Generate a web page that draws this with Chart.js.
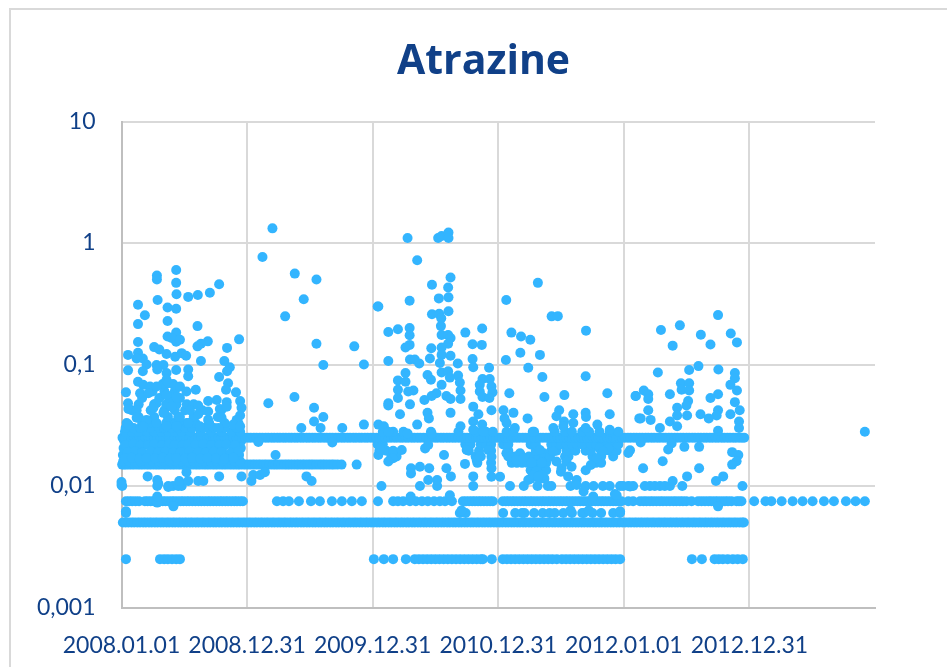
<!DOCTYPE html>
<html>
<head>
<meta charset="utf-8">
<title>Atrazine</title>
<script src="https://cdn.jsdelivr.net/npm/chart.js@4"></script>
<style>
html,body{margin:0;padding:0;background:#fff;overflow:hidden}
#frame{position:absolute;left:0;top:0;width:947px;height:667px}
canvas{display:block}
</style>
</head>
<body>
<div id="frame"><canvas id="c" width="947" height="667"></canvas></div>
<script>
const chartTitle = 'Atrazine';
const xTickDays = [0, 365.25, 730.5, 1095.75, 1461, 1826.25, 2191.5];
const xTickLabels = ['2008.01.01','2008.12.31','2009.12.31','2010.12.31','2012.01.01','2012.12.31',''];
const yTickValues = [0.001, 0.01, 0.1, 1, 10];
const yTickLabels = ['0,001','0,01','0,1','1','10'];

// Values sitting on reporting-limit levels: days since 2008.01.01 per level
const days0025 = [13,112,124,135,147,159,170,734,763,790,827,853,865,877,889,901,913,925,937,949,961,973,985,997,1009,1021,1033,1045,1051,1077,1109,1121,1133,1145,1157,1169,1181,1193,1205,1217,1229,1241,1253,1266,1281,1293,1305,1317,1329,1341,1353,1365,1377,1389,1401,1413,1425,1437,1450,1659,1688,1725,1737,1749,1763,1778,1792,1807];
const days005 = [4,12,20,29,37,46,54,63,71,80,88,97,105,114,122,131,139,148,156,165,173,182,190,199,207,216,224,233,241,250,258,267,275,284,292,301,309,318,326,335,343,352,360,369,377,386,394,403,411,420,428,437,445,454,462,471,479,488,496,505,513,522,530,539,547,556,564,573,581,590,598,607,615,624,632,641,649,658,666,675,683,692,700,709,717,726,734,743,751,760,768,777,785,794,802,811,819,828,836,845,853,862,870,879,887,896,904,913,921,930,938,947,955,964,972,981,989,998,1006,1015,1023,1032,1040,1049,1057,1066,1074,1083,1091,1100,1108,1117,1125,1134,1142,1151,1159,1168,1176,1185,1193,1202,1210,1219,1227,1236,1244,1253,1261,1270,1278,1287,1295,1304,1312,1321,1329,1338,1346,1355,1363,1372,1380,1389,1397,1406,1414,1423,1431,1440,1448,1457,1465,1474,1482,1491,1499,1508,1516,1525,1533,1542,1550,1559,1567,1576,1584,1593,1601,1610,1618,1627,1635,1644,1652,1661,1669,1678,1686,1695,1703,1712,1720,1729,1737,1746,1754,1763,1771,1780,1788,1797,1805,1810];
const days0075 = [13,22,31,41,51,68,76,85,94,102,111,120,128,137,146,154,163,172,180,189,197,206,215,224,232,241,250,258,267,276,285,293,302,310,319,328,336,345,353,452,470,487,516,551,577,612,641,670,699,746,790,804,819,839,856,874,891,909,926,941,961,993,1002,1011,1020,1028,1037,1045,1054,1063,1072,1080,1109,1118,1126,1135,1143,1152,1161,1170,1178,1187,1195,1204,1213,1222,1230,1239,1247,1256,1265,1274,1282,1291,1299,1308,1317,1326,1334,1343,1351,1360,1369,1378,1386,1395,1403,1412,1421,1430,1438,1446,1454,1474,1488,1508,1518,1527,1537,1546,1556,1566,1575,1585,1595,1605,1614,1624,1633,1643,1658,1677,1687,1697,1707,1716,1726,1735,1745,1755,1764,1774,1789,1796,1803,1840,1873,1890,1920,1952,1981,2010,2043,2072,2107,2135,2162];
const days010 = [2,104,136,150,165,175,756,868,918,1023,1130,1170,1210,1240,1250,1306,1350,1373,1400,1420,1450,1459,1474,1488,1522,1537,1551,1566,1580,1595,1631,1806];
const days015 = [2,8,14,22,30,38,47,55,63,72,80,88,97,105,113,122,130,139,147,155,164,172,180,189,197,205,214,222,230,239,247,255,264,272,280,289,297,305,314,322,330,338,345,354,362,371,380,388,397,405,414,422,431,440,448,456,465,474,482,490,499,508,516,525,533,542,550,558,567,576,584,592,601,610,618,628,640,684];
const days025 = [3,11,19,28,36,45,53,62,70,79,87,96,104,113,121,130,138,147,155,164,172,181,189,198,206,215,223,232,240,249,257,266,274,283,291,300,308,317,325,334,342,351,359,368,376,385,393,402,410,419,427,436,444,453,461,470,478,487,495,504,512,521,529,538,546,555,563,572,580,589,597,606,614,623,631,640,648,657,665,674,682,691,699,708,716,725,733,742,750,759,767,776,784,793,801,810,818,827,835,844,852,861,869,878,886,895,903,912,920,929,937,946,954,963,971,980,988,997,1005,1014,1022,1031,1039,1048,1056,1065,1073,1082,1090,1099,1107,1116,1124,1133,1141,1150,1158,1167,1175,1184,1192,1201,1209,1218,1226,1235,1243,1252,1260,1269,1277,1286,1294,1303,1311,1320,1328,1337,1345,1354,1362,1371,1379,1388,1396,1405,1413,1422,1430,1439,1447,1456,1464,1473,1481,1490,1498,1507,1515,1524,1532,1541,1549,1558,1566,1575,1583,1592,1600,1609,1617,1626,1634,1643,1651,1660,1668,1677,1685,1694,1702,1711,1719,1728,1736,1745,1753,1762,1770,1779,1787,1796,1804,1811];
const days006 = [13,984,1001,1110,1145,1165,1172,1200,1225,1245,1260,1285,1310,1340,1345,1370,1395,1430,1450];

// Dense clusters around the limits, estimated by band of values
const days0115 = [1190,1215,1230];
const days0135 = [1190,1205,1220,1235,1350];
const days0155 = [1035,1075,1135,1150,1165,1180,1195,1205,1220,1235,1380,1395];
const days016 = [5,22,39,56,90,107,124,141,158,175,192,209,226,243,260,277,294,328,345];
const days0175 = [785,800,1030,1045,1125,1145,1165,1185,1200,1215,1230,1290,1300,1370,1395,1430];
const days018 = [4,21,38,55,89,106,123,140,157,174,191,240,257,274,291,308,325,342];
const days0195 = [750,770,790,1010,1040,1075,1125,1205,1250,1265,1295,1320,1350,1365,1395,1420,1440];
const days0205 = [6,23,40,57,90,108,125,142,159,176,225,242,259,276,293,330,347];
const days022 = [745,760,1000,1015,1045,1060,1075,1110,1125,1190,1205,1250,1265,1280,1295,1310,1325,1340,1365,1380,1400,1415,1430,1445];
const days0235 = [8,25,42,59,76,93,110,127,144,161,178,212,229,246,263,280,297,314,331,348];
const days028 = [10,30,50,75,95,115,135,155,175,200,230,260,290,320,345,760,790,820,900,980,1030,1060,1080,1120,1140,1200,1260,1290,1310,1340,1360,1390,1420,1445];
const days030 = [12,35,55,85,110,125,145,165,185,205,240,270,300,335];
const days033 = [15,60,90,130,150,170,190,215,255,300,340];
const days037 = [50,95,135,165,210,280];
const days042 = [30,85,125,155,185,235,290];
const days047 = [50,95,130,160,190,210];
const days053 = [60,110,140,170];
const days060 = [90,125,155];
const days069 = [120,150];

// Scattered detections: day and value pairs
const scatterDays = [439,410,504,567,530,476,567,677,705,587,745,427,503,560,587,560,523,579,642,705,747,
159,103,103,159,284,257,222,194,160,105,48,134,159,68,134,48,221,159,134,159,146,170,48,342,251,231,221,307,95,110,19,48,62,44,131,156,175,188,299,231,315,73,102,122,19,62,104,159,194,194,307,284,131,131,310,48,63,83,102,136,156,170,189,216,304,13,54,78,131,160,333,277,252,306,345,19,102,223,349,286,306,20,44,93,146,199,252,345,223,44,73,122,170,291,252,335,20,63,102,194,228,131,282,325,160,345,
12,35,55,78,95,118,138,155,178,195,215,238,262,285,305,330,18,40,60,85,108,128,150,172,198,222,245,268,290,318,340,10,30,52,72,98,120,140,160,185,205,230,250,275,300,325,
0,0,76,104,107,136,165,168,194,223,238,284,349,189,378,383,403,417,538,553,448,613,398,13,104,151,104,
832,921,931,951,951,860,957,903,950,923,951,838,747,1119,1211,951,903,924,1251,1269,930,929,838,804,776,1049,1000,1351,1134,1162,1189,838,931,950,957,950,1021,1048,838,826,901,931,1160,1217,931,957,897,839,853,776,1118,1021,866,926,978,1023,1069,1183,826,931,950,979,890,900,955,1224,1350,804,826,984,1050,1071,1042,1076,931,804,849,834,986,1042,1079,1128,916,1413,1288,1495,1230,804,902,945,957,986,1050,1070,881,839,776,776,1023,1076,1111,1140,1273,957,890,1038,810,1314,1350,1420,1265,1351,894,1114,1181,1506,1023,1287,1120,1314,1049,1384,860,763,986,1256,1144,1285,1350,1420,1196,776,1023,1052,902,832,
747,752,790,776,815,883,892,938,842,842,868,895,892,918,945,958,1023,999,1004,1033,1042,1067,1076,1076,1076,1101,1120,1139,1159,1120,1130,1149,1168,1193,1207,1222,1183,1197,1212,1228,1222,1246,1217,1256,1265,1280,1299,1324,1324,1344,1294,1365,1309,1278,1382,1391,1416,1401,1435,1440,1372,1479,1359,1306,841,955,989,
1735,1624,1569,1685,1772,1790,1603,1713,1678,1651,1736,1560,1784,1784,1771,1627,1651,1629,1651,1790,1519,1532,1496,1532,1595,1735,1713,1648,1643,1784,1616,1532,1735,1798,1684,1771,1616,1645,1731,1708,1510,1539,1595,1796,1616,1796,1566,1735,2162,
1510,1600,1590,1637,1680,1479,1474,1776,1794,1789,1776,1574,1517,1680,1645,1750,1729,1603,1735,1450];
const scatterValues = [1.32,0.767,0.56,0.5,0.344,0.249,0.148,0.141,0.1,0.099,0.3,0.048,0.054,0.044,0.037,0.034,0.03,0.03,0.03,0.032,0.032,
0.6,0.54,0.5,0.47,0.457,0.39,0.373,0.36,0.378,0.34,0.31,0.295,0.288,0.254,0.228,0.215,0.207,0.183,0.17,0.154,0.165,0.16,0.153,0.161,0.155,0.148,0.141,0.137,0.139,0.133,0.12,0.125,0.112,0.112,0.122,0.116,0.124,0.118,0.107,0.107,0.095,0.1,0.099,0.099,0.0895,0.088,0.091,0.09,0.091,0.08,0.088,0.079,0.085,0.075,0.07,0.072,0.068,0.066,0.066,0.07,0.066,0.066,0.06,0.062,0.062,0.059,0.058,0.058,0.056,0.054,0.059,0.051,0.05,0.049,0.05,0.048,0.048,0.046,0.044,0.043,0.045,0.043,0.042,0.044,0.045,0.042,0.041,0.038,0.039,0.0365,0.035,0.04,0.037,0.0365,0.035,0.035,0.032,0.031,0.033,0.033,0.031,0.031,0.03,0.032,0.031,0.031,
0.0218,0.0222,0.0215,0.0218,0.022,0.0216,0.022,0.0218,0.0215,0.022,0.0218,0.0222,0.0216,0.0218,0.022,0.0216,0.019,0.0192,0.0188,0.0192,0.019,0.0192,0.0188,0.019,0.0192,0.019,0.0188,0.0192,0.019,0.0188,0.0192,0.0169,0.0171,0.0168,0.017,0.0169,0.0171,0.0168,0.017,0.0169,0.0171,0.0168,0.017,0.0169,0.0168,0.0171,
0.0108,0.0102,0.012,0.0112,0.0105,0.0098,0.0102,0.011,0.011,0.011,0.011,0.012,0.012,0.013,0.011,0.0123,0.0123,0.013,0.012,0.011,0.018,0.0228,0.023,0.0062,0.0073,0.0068,0.0082,
1.1,1.1,1.14,1.22,1.1,0.72,0.52,0.454,0.43,0.35,0.357,0.335,0.3,0.34,0.47,0.274,0.259,0.262,0.249,0.25,0.24,0.207,0.2,0.195,0.185,0.198,0.183,0.19,0.183,0.17,0.16,0.174,0.175,0.175,0.165,0.148,0.147,0.145,0.145,0.138,0.136,0.138,0.125,0.12,0.12,0.118,0.112,0.11,0.11,0.107,0.109,0.111,0.102,0.103,0.102,0.095,0.094,0.094,0.085,0.086,0.088,0.081,0.082,0.075,0.078,0.079,0.08,0.074,0.072,0.071,0.076,0.076,0.068,0.066,0.068,0.062,0.061,0.06,0.061,0.06,0.059,0.058,0.058,0.058,0.056,0.055,0.054,0.053,0.055,0.055,0.052,0.052,0.054,0.053,0.051,0.047,0.048,0.046,0.045,0.042,0.042,0.04,0.042,0.04,0.04,0.039,0.039,0.039,0.04,0.039,0.0375,0.037,0.036,0.036,0.036,0.036,0.034,0.034,0.033,0.033,0.032,0.032,0.032,0.031,0.031,0.03,0.03,0.031,0.03,0.029,0.028,0.028,0.029,0.028,0.027,0.027,
0.018,0.0204,0.0169,0.0159,0.0198,0.0204,0.0218,0.018,0.014,0.0127,0.0144,0.014,0.0112,0.0112,0.014,0.012,0.012,0.0152,0.0198,0.0164,0.0174,0.0198,0.0174,0.014,0.0119,0.0119,0.0186,0.0169,0.0186,0.0186,0.0174,0.0164,0.0169,0.0155,0.0132,0.0123,0.0112,0.0123,0.012,0.0186,0.0155,0.0174,0.0198,0.0192,0.0159,0.014,0.012,0.0112,0.0102,0.009,0.0159,0.0149,0.0144,0.0131,0.0169,0.0204,0.0204,0.0192,0.0086,0.0084,0.0082,0.0099,0.0063,0.0063,0.0082,0.0084,0.0063,
0.255,0.21,0.192,0.176,0.18,0.152,0.143,0.146,0.097,0.09,0.091,0.086,0.085,0.077,0.068,0.07,0.07,0.062,0.061,0.061,0.061,0.057,0.055,0.052,0.057,0.057,0.053,0.05,0.046,0.049,0.044,0.042,0.042,0.042,0.039,0.039,0.038,0.038,0.038,0.036,0.036,0.035,0.034,0.034,0.031,0.03,0.03,0.0285,0.028,
0.0228,0.0224,0.02,0.021,0.021,0.0197,0.0187,0.019,0.018,0.016,0.015,0.016,0.014,0.014,0.012,0.012,0.011,0.011,0.0068,0.0062];

const levels = [[days0025,0.0025],[days005,0.005],[days006,0.006],[days0075,0.0075],[days010,0.01],[days0115,0.0115],[days0135,0.0135],[days015,0.015],[days0155,0.0155],[days016,0.016],[days0175,0.0175],[days018,0.018],[days0195,0.0195],[days0205,0.0205],[days022,0.022],[days0235,0.0235],[days025,0.025],[days028,0.028],[days030,0.03],[days033,0.033],[days037,0.037],[days042,0.042],[days047,0.047],[days053,0.053],[days060,0.06],[days069,0.069]];
const points = [];
levels.forEach(([d,v]) => d.forEach(x => points.push({x, y:v})));
scatterDays.forEach((x,i) => points.push({x, y:scatterValues[i]}));

const textColor = '#104088';
const frame = {
  id:'frame',
  beforeDraw(chart){
    const c = chart.ctx;
    c.save();
    c.strokeStyle = '#d9d9d9';
    c.lineWidth = 2;
    c.beginPath();
    c.moveTo(10, 667);
    c.lineTo(10, 9);
    c.lineTo(947, 9);
    c.stroke();
    c.restore();
  }
};

new Chart(document.getElementById('c'), {
  type:'scatter',
  data:{datasets:[{data:points, backgroundColor:'#33b5ff', borderWidth:0, pointRadius:5, pointHoverRadius:5, clip:false}]},
  plugins:[frame],
  options:{
    responsive:false,
    animation:false,
    layout:{padding:{left:20,right:0,top:0,bottom:0}},
    plugins:{
      legend:{display:false},
      tooltip:{enabled:false},
      title:{display:true,text:chartTitle,color:textColor,align:'center',
        font:{family:'"Open Sans"',size:41,weight:'bold'},
        padding:{top:38,bottom:34.3}}
    },
    scales:{
      x:{
        type:'linear',min:0,max:2191.5,
        afterBuildTicks(s){s.ticks = xTickDays.map(v=>({value:v}));},
        afterFit(s){s.height = 667-607.5;},
        ticks:{autoSkip:false,maxRotation:0,minRotation:0,color:textColor,padding:24,
          font:{family:'Lato',size:23},
          callback(v){const i=xTickDays.indexOf(v);return i>=0?xTickLabels[i]:'';}},
        grid:{drawTicks:false,lineWidth:2,color(ctx){return ctx.index===6?'rgba(0,0,0,0)':'#d9d9d9';}},
        border:{display:true,color:'#bfbfbf',width:2}
      },
      y:{
        type:'logarithmic',min:0.001,max:10,
        afterBuildTicks(s){s.ticks = yTickValues.map(v=>({value:v}));},
        afterFit(s){s.width = 101.5;},
        ticks:{autoSkip:false,color:textColor,padding:26,
          font:{family:'Lato',size:23},
          callback(v){const i=yTickValues.indexOf(v);return i>=0?yTickLabels[i]:'';}},
        grid:{drawTicks:false,lineWidth:2,color:'#d9d9d9'},
        border:{display:true,color:'#bfbfbf',width:2}
      },
      rightGap:{
        type:'linear',position:'right',display:true,
        afterFit(s){s.width = 72;},
        ticks:{display:false},
        grid:{display:false,drawTicks:false},
        border:{display:false}
      }
    }
  }
});
</script>
</body>
</html>
